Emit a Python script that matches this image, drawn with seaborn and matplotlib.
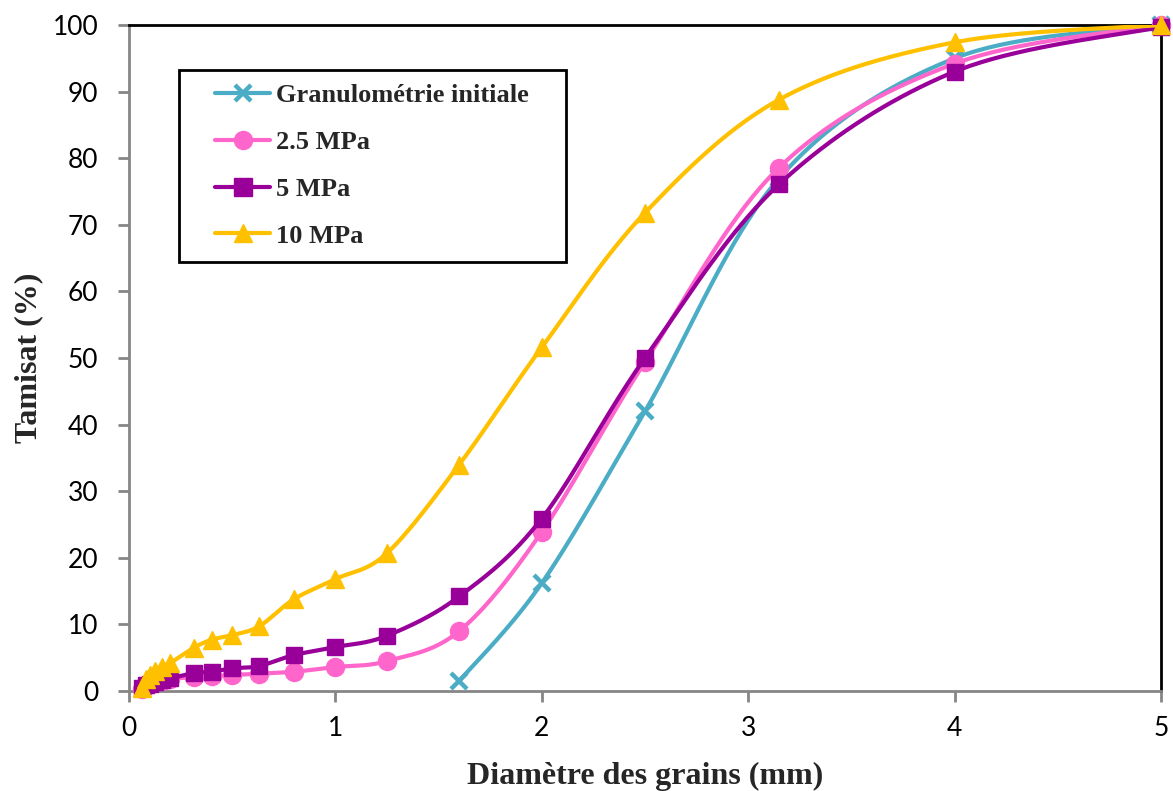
import numpy as np
import pandas as pd
import matplotlib
matplotlib.use("Agg")
import matplotlib.pyplot as plt
from matplotlib.lines import Line2D
from matplotlib.patches import Rectangle
import seaborn as sns

# ---------------- data ----------------
sieves = [0.063, 0.08, 0.1, 0.125, 0.16, 0.2, 0.315, 0.4, 0.5, 0.63, 0.8,
          1.0, 1.25, 1.6, 2.0, 2.5, 3.15, 4.0, 5.0]
initial_x = [1.6, 2.0, 2.5, 3.15, 4.0, 5.0]
initial_y = [1.5, 16.2, 42.0, 77.0, 95.0, 100.0]
mpa25_y = [0.3, 0.7, 1.0, 1.3, 1.5, 1.8, 2.1, 2.2, 2.4, 2.6, 2.9,
           3.6, 4.5, 9.0, 23.9, 49.4, 78.6, 94.2, 100.0]
mpa5_y = [0.5, 0.9, 1.1, 1.3, 1.6, 1.9, 2.7, 2.9, 3.4, 3.75, 5.4,
          6.6, 8.3, 14.2, 25.9, 50.0, 76.1, 93.0, 99.7]
mpa10_y = [0.5, 1.8, 2.4, 3.0, 3.6, 4.2, 6.5, 7.7, 8.4, 9.7, 13.8,
           16.8, 20.7, 34.0, 51.6, 71.8, 88.8, 97.4, 100.0]

labels = ["Granulométrie initiale", "2.5 MPa", "5 MPa", "10 MPa"]
colors = ["#4BACC6", "#FF66CC", "#990099", "#FFC000"]
markers = ["x", "o", "s", "^"]
xticks = [0, 1, 2, 3, 4, 5]
yticks = [0, 10, 20, 30, 40, 50, 60, 70, 80, 90, 100]


def smooth(x, y, n=40):
    """Excel-like smoothed line (Catmull-Rom Bezier)."""
    P = np.column_stack([x, y]).astype(float)
    m = len(P)
    out = []
    for i in range(m - 1):
        p0 = P[i - 1] if i > 0 else P[i]
        p1 = P[i]
        p2 = P[i + 1]
        p3 = P[i + 2] if i + 2 < m else P[i + 1]
        c1 = p1 + (p2 - p0) / 6.0
        c2 = p2 - (p3 - p1) / 6.0
        t = np.linspace(0, 1, n)[:, None]
        seg = ((1 - t) ** 3) * p1 + 3 * ((1 - t) ** 2) * t * c1 + 3 * (1 - t) * t ** 2 * c2 + t ** 3 * p2
        out.append(seg if i == 0 else seg[1:])
    s = np.vstack(out)
    return s[:, 0], s[:, 1]


series = [(initial_x, initial_y), (sieves, mpa25_y), (sieves, mpa5_y), (sieves, mpa10_y)]

sns.set_theme(style="white")
plt.rcParams["font.family"] = ["Lato", "DejaVu Sans"]

fig = plt.figure(figsize=(11.73, 7.91), dpi=100)
ax = fig.add_axes([129 / 1173, 1 - 691 / 791, (1161 - 129) / 1173, (691 - 25) / 791])

msizes = [13, 13, 12, 13]
for i, ((xs, ys), lab, col, mk) in enumerate(zip(series, labels, colors, markers)):
    sx, sy = smooth(xs, ys)
    df = pd.DataFrame({"x": sx, "y": sy})
    sns.lineplot(data=df, x="x", y="y", sort=False, estimator=None, color=col,
                 linewidth=3.0, ax=ax, zorder=3 + i)
    if mk == "x":
        ax.plot(xs, ys, linestyle="none", marker=mk, markersize=12, markeredgewidth=3.2,
                color=col, zorder=3 + i, clip_on=False)
    else:
        ax.plot(xs, ys, linestyle="none", marker=mk, markersize=msizes[i],
                color=col, markeredgecolor=col, zorder=3 + i, clip_on=False)

ax.set_xlim(0, 5)
ax.set_ylim(0, 100)
ax.set_xticks(xticks)
ax.set_yticks(yticks)
ax.set_xticklabels([str(v) for v in xticks])
ax.set_yticklabels([str(v) for v in yticks])

for side in ["left", "bottom"]:
    ax.spines[side].set_color("#868686")
    ax.spines[side].set_linewidth(2.0)
for side in ["top", "right"]:
    ax.spines[side].set_color("black")
    ax.spines[side].set_linewidth(2.0)
    ax.spines[side].set_visible(True)

ax.tick_params(axis="both", direction="out", length=8, width=2, color="#868686",
               labelsize=19, labelcolor="black")
ax.tick_params(axis="x", pad=10, bottom=True)
ax.tick_params(axis="y", pad=14, left=True)

serif = ["Liberation Serif", "DejaVu Serif"]
ax.set_xlabel("Diamètre des grains (mm)", fontsize=23, fontweight="bold", family=serif)
ax.set_ylabel("Tamisat (%)", fontsize=23, fontweight="bold", family=serif)
ax.xaxis.set_label_coords(0.5, -0.106)
ax.yaxis.set_label_coords(-0.083, 0.5)

# legend
handles = []
for lab, col, mk in zip(labels, colors, markers):
    if mk == "x":
        h = Line2D([], [], color=col, linewidth=3.0, marker=mk, markersize=12, markeredgewidth=3.2)
    else:
        h = Line2D([], [], color=col, linewidth=3.0, marker=mk, markersize=13, markeredgecolor=col)
    handles.append(h)

x0 = (179 - 129) / 1032
x1 = (566 - 129) / 1032
y0 = (691 - 262) / 666
y1 = (691 - 70) / 666
ax.add_patch(Rectangle((x0, y0), x1 - x0, y1 - y0, transform=ax.transAxes, fill=False,
                       edgecolor="black", linewidth=2.0, zorder=10))
leg = ax.legend(handles=handles, labels=labels, loc="upper left",
                bbox_to_anchor=((215 - 129) / 1032, (691 - 84) / 666),
                frameon=False, borderaxespad=0, borderpad=0, handlelength=2.1,
                handletextpad=0.2, labelspacing=0.88,
                prop={"family": serif, "weight": "bold", "size": 19})
leg.set_zorder(11)

fig.savefig("out.png", dpi=100)
